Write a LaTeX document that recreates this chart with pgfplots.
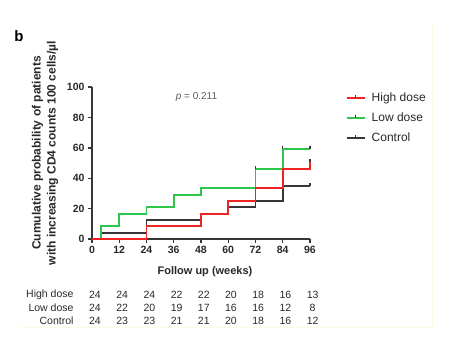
\documentclass[border=0pt]{standalone}
\usepackage{pgfplots}
\pgfplotsset{compat=1.18}
\usepackage{fontspec}
\setmainfont{Liberation Sans}
\definecolor{kmred}{RGB}{240,35,35}
\definecolor{kmgreen}{RGB}{45,200,75}
\definecolor{kmblack}{RGB}{55,55,55}
\definecolor{txt}{RGB}{40,40,40}
\definecolor{ptxt}{RGB}{90,90,90}
\begin{document}
\begin{tikzpicture}
\path[use as bounding box] (0,0) rectangle (451pt,-361pt);
\begin{axis}[
  at={(92pt,-239pt)}, anchor=south west,
  scale only axis, width=218pt, height=152pt,
  xmin=0, xmax=96, ymin=0, ymax=100,
  axis lines=left, axis line style={-, kmblack, line width=1.6pt},
  xtick={0,12,...,96}, ytick={0,20,...,100},
  tick align=outside, major tick length=4pt,
  tick style={kmblack, line width=1.4pt},
  ticklabel style={font=\bfseries\fontsize{10.5}{12}\selectfont, text=txt},
  /pgf/number format/assume math mode=true,
  clip=false,
  legend style={at={(1.15,0.99)}, anchor=north west, draw=none, fill=none,
    font=\fontsize{12}{14}\selectfont, text=txt, row sep=6pt},
  legend cell align=left,
  legend image code/.code={\draw[#1] (0pt,0pt) -- (18pt,0pt); \draw[kmblack, line width=1pt] (9pt,0pt) -- (9pt,3pt); \path (22pt,0pt);},
]
\addlegendimage{kmred, line width=1.8pt}
\addlegendentry{High dose}
\addlegendimage{kmgreen, line width=1.8pt}
\addlegendentry{Low dose}
\addlegendimage{kmblack, line width=1.8pt}
\addlegendentry{Control}
% Control
\addplot[const plot, kmblack, line width=1.8pt, forget plot] coordinates {
  (0,0) (4,4.2) (24,12.5) (48,16.7) (60,20.8) (72,25) (84,34.7) (96,34.7)};
% Low dose
\addplot[const plot, kmgreen, line width=1.8pt, forget plot] coordinates {
  (0,0) (4,8.3) (12,16.7) (24,20.8) (36,29.2) (48,33.3) (72,45.8) (84,59.4) (96,59.4)};
% High dose
\addplot[const plot, kmred, line width=1.8pt, forget plot] coordinates {
  (0,0) (24,8.3) (48,16.7) (60,25) (72,33.3) (84,45.8) (96,45.8) (96,50.5)};
% censor marks
\addplot[only marks, mark=|, mark size=1.6pt, kmblack, mark options={line width=1.2pt, yshift=1.6pt}, forget plot] coordinates {
  (72,45.8) (84,59.4) (96,59.4) (96,50.5) (96,34.7)};
\node[font=\fontsize{10}{12}\selectfont, text=ptxt] at (axis cs:46,93.5) {\textit{p} = 0.211};
\end{axis}
\node[font=\bfseries\fontsize{15}{17}\selectfont, text=black] at (19pt,-36pt) {b};
\node[rotate=90, align=center, font=\bfseries\fontsize{12}{15}\selectfont, text=txt] at (45pt,-153pt)
  {Cumulative probability of patients\\with increasing CD4 counts 100 cells/\textmu l};
\node[font=\bfseries\fontsize{11}{13}\selectfont, text=txt] at (205pt,-272pt) {Follow up (weeks)};
\begin{scope}[font=\fontsize{10.5}{12}\selectfont, text=txt]
\node[anchor=east] at (77pt,-295pt) {High dose};
\node[anchor=east] at (77pt,-308pt) {Low dose};
\node[anchor=east] at (77pt,-321pt) {Control};
\foreach \v [count=\i from 0] in {24,24,24,22,22,20,18,16,13}
  \node at ({(95+27.2*\i)*1pt},-295pt) {\v};
\foreach \v [count=\i from 0] in {24,22,20,19,17,16,16,12,8}
  \node at ({(95+27.2*\i)*1pt},-308pt) {\v};
\foreach \v [count=\i from 0] in {24,23,23,21,21,20,18,16,12}
  \node at ({(95+27.2*\i)*1pt},-321pt) {\v};
\end{scope}
\draw[color={rgb,255:red,255;green,250;blue,232}, line width=0.8pt] (432pt,-23pt) -- (432pt,-327pt) -- (20pt,-327pt);
\end{tikzpicture}
\end{document}
